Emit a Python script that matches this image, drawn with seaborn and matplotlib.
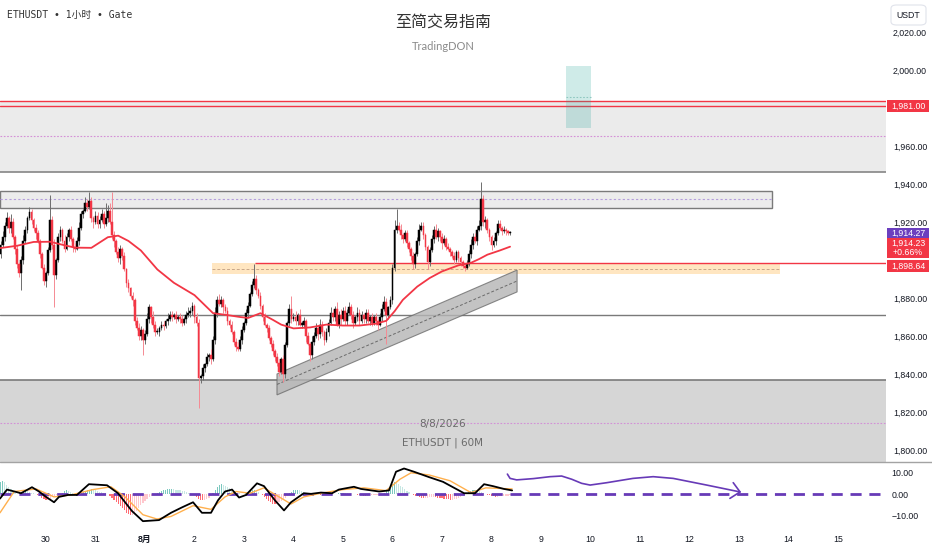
import numpy as np
import pandas as pd
import matplotlib
matplotlib.use("Agg")
import matplotlib.pyplot as plt
import matplotlib.transforms as mtransforms
from matplotlib.patches import Rectangle, Polygon, FancyBboxPatch
from matplotlib.lines import Line2D
import seaborn as sns

# hours counted from 30 Jul 00:00, one candle per hour
first_hour = -22
first_open = 1903
closes = [
    1908, 1912, 1918, 1922, 1917, 1920, 1912, 1906, 1898, 1893, 1900, 1910, 1916, 1922, 1925, 1921, 1917, 1914, 1910, 1903, 1896, 1889, 1893, 1905,
    1921, 1908, 1892, 1900, 1912, 1916, 1910, 1906, 1912, 1916, 1911, 1907, 1906, 1910, 1917, 1924, 1926, 1930, 1928, 1931, 1922, 1920, 1923, 1919,
    1921, 1924, 1919, 1922, 1926, 1920, 1913, 1910, 1904, 1901, 1906, 1902, 1895, 1888, 1885, 1881, 1879, 1868, 1864, 1860, 1863, 1858, 1861, 1869,
    1875, 1870, 1866, 1862, 1862, 1864, 1866, 1865, 1868, 1869, 1871, 1870, 1871, 1869, 1870, 1869, 1867, 1869, 1871, 1872, 1873, 1876, 1870, 1867,
    1838, 1839, 1843, 1845, 1849, 1850, 1848, 1858, 1872, 1879, 1877, 1879, 1875, 1873, 1868, 1866, 1862, 1857, 1854, 1853, 1858, 1863, 1867, 1872,
    1876, 1882, 1887, 1890, 1884, 1881, 1876, 1870, 1866, 1864, 1859, 1856, 1852, 1849, 1846, 1841, 1848, 1840, 1855, 1867, 1874, 1869, 1870, 1868,
    1871, 1866, 1866, 1868, 1860, 1856, 1850, 1857, 1860, 1864, 1861, 1866, 1862, 1858, 1862, 1867, 1872, 1870, 1874, 1866, 1871, 1869, 1873, 1868,
    1872, 1875, 1871, 1867, 1870, 1872, 1868, 1871, 1869, 1872, 1868, 1870, 1867, 1870, 1868, 1866, 1870, 1874, 1878, 1871, 1875, 1879, 1896, 1916,
    1918, 1916, 1913, 1911, 1914, 1909, 1906, 1902, 1898, 1903, 1910, 1916, 1918, 1913, 1907, 1899, 1905, 1911, 1916, 1912, 1915, 1912, 1909, 1911,
    1907, 1906, 1904, 1902, 1900, 1904, 1901, 1899, 1897, 1896, 1898, 1903, 1908, 1912, 1910, 1916, 1918, 1932, 1920, 1921, 1916, 1912, 1908, 1910,
    1914, 1919, 1917, 1915, 1916, 1915, 1914, 1914.23,
]
up_wick = [
    2, 3, 2, 3, 1, 4, 2, 1, 2, 1, 2, 3, 2, 1, 3, 2, 1, 2, 2, 1, 1, 2, 1, 2,
    13, 2, 3, 1, 2, 2, 1, 3, 2, 1, 2, 1, 2, 2, 3, 2, 1, 3, 2, 5, 2, 1, 3, 2,
    2, 3, 2, 8, 3, 4, 16, 2, 1, 3, 2, 1, 2, 1, 2, 1, 2, 1, 2, 3, 2, 1, 2, 3,
    2, 1, 3, 2, 2, 1, 2, 2, 1, 3, 2, 2, 1, 2, 1, 2, 2, 1, 2, 3, 2, 2, 1, 2,
    2, 1, 2, 1, 2, 1, 3, 2, 3, 2, 3, 2, 1, 2, 2, 1, 2, 1, 2, 3, 2, 2, 1, 2,
    2, 1, 2, 8, 2, 1, 2, 1, 2, 1, 2, 1, 2, 1, 2, 2, 1, 2, 2, 1, 3, 7, 2, 3,
    1, 3, 2, 2, 1, 2, 1, 3, 2, 3, 1, 3, 2, 1, 2, 2, 3, 2, 2, 4, 2, 3, 2, 3,
    2, 3, 2, 2, 1, 3, 2, 2, 1, 2, 2, 1, 2, 1, 2, 1, 2, 3, 3, 2, 1, 2, 2, 5,
    9, 2, 3, 1, 2, 2, 1, 1, 2, 1, 2, 3, 2, 2, 1, 1, 2, 2, 2, 3, 2, 1, 2, 2,
    1, 2, 1, 1, 2, 1, 1, 1, 1, 1, 2, 2, 3, 2, 2, 2, 3, 9, 2, 2, 1, 1, 1, 2,
    1, 2, 2, 1, 2, 1, 1, 1,
]
down_wick = [
    2, 1, 2, 1, 3, 3, 1, 3, 2, 2, 9, 2, 1, 2, 1, 2, 2, 3, 1, 2, 1, 2, 3, 1,
    1, 2, 17, 2, 1, 2, 1, 2, 1, 2, 1, 3, 2, 1, 2, 1, 2, 1, 2, 1, 2, 3, 1, 2,
    2, 1, 2, 1, 2, 1, 2, 3, 1, 2, 3, 2, 1, 2, 2, 1, 3, 2, 1, 2, 2, 8, 2, 1,
    2, 3, 2, 2, 1, 2, 1, 2, 1, 2, 1, 2, 1, 2, 1, 2, 2, 1, 2, 1, 2, 2, 3, 2,
    16, 3, 2, 2, 1, 2, 3, 1, 2, 2, 1, 2, 3, 1, 2, 2, 1, 2, 2, 1, 1, 2, 1, 1,
    2, 1, 1, 2, 2, 1, 2, 2, 1, 2, 1, 2, 2, 2, 2, 2, 1, 4, 2, 1, 2, 2, 1, 2,
    2, 1, 2, 2, 3, 1, 3, 2, 2, 1, 3, 2, 2, 3, 1, 2, 1, 2, 2, 1, 2, 3, 1, 2,
    2, 1, 2, 3, 1, 2, 2, 1, 2, 2, 1, 2, 2, 1, 2, 3, 1, 2, 1, 15, 2, 1, 2, 2,
    2, 1, 2, 2, 1, 2, 2, 2, 3, 2, 1, 2, 1, 2, 2, 4, 2, 1, 2, 1, 2, 2, 3, 1,
    2, 1, 2, 1, 2, 1, 2, 2, 1, 2, 1, 1, 2, 2, 1, 2, 1, 2, 2, 3, 2, 2, 3, 1,
    2, 1, 1, 2, 1, 2, 1, 1,
]

ma_hours = [-22, -14, -6, 2, 8, 14, 22, 30, 35, 40, 46, 54, 62, 72, 81, 88, 94, 98, 104, 110,
            114, 120, 128, 136, 144, 152, 160, 165, 169, 173, 180, 186, 192, 200, 206, 210, 214, 220, 225]
ma_values = [1906.3, 1907.5, 1909.5, 1909.6, 1908, 1906.5, 1906.4, 1912, 1912.8, 1910, 1905, 1895, 1888, 1881.5, 1872, 1871, 1870, 1869.5, 1872, 1868.5,
             1866, 1864, 1864.5, 1866, 1865.5, 1865.5, 1866.5, 1868, 1873, 1879, 1886, 1890.5, 1894, 1897.2, 1898.5, 1900.5, 1902.8, 1905, 1907]

macd_hours = [-22.3, -18.9, -12.1, -6.8, -3.4, 0, 3.9, 6.3, 10.7, 15, 20.8, 29.6, 34.9, 41.7, 47, 54.8, 60.6, 65.9, 71.3, 75.6,
              80, 83.4, 86.8, 90.2, 93.6, 97, 102.3, 105.7, 111, 115.4, 118.8, 125, 128.5, 133.3, 138.7, 142, 149.3, 152.7, 161.5, 166.3,
              169.7, 173.6, 178.4, 185.7, 192.5, 202.7, 208, 212.4, 216.7, 222, 226]
macd_values = [-2, 2.2, 0.5, 3.3, 1.3, -1.2, -3.7, -1.2, -0.3, -0.3, 4.7, 4.2, 0.5, -7.8, -12.5, -12, -8.6, -6.1, -3.7, -8.6,
               -8.6, -2.8, 1.3, 2.2, -1.5, -0.3, 5.1, 3.8, -2.8, -7.5, -3.7, 0.5, 0.2, 0.8, 0.5, 2.2, 3.5, 2.5, 1.3, 1.8,
               10.5, 12, 10.5, 8, 5.8, 0.5, 0.5, 4.7, 3.8, 2.5, 1.8]
signal_hours = [-22.3, -15.4, -4.8, 3.9, 12.1, 22.8, 31.5, 38.3, 47, 53.8, 60.6, 71.3, 80, 86.8, 92.1, 98.9,
                105.7, 113, 118.8, 125, 133.3, 144, 154.2, 164.9, 171.6, 177, 185.7, 195.9, 206, 213.3, 226]
signal_values = [-8.6, 1.3, 2.5, -1.2, -0.3, 2.2, 3.5, -1.2, -9.5, -11.5, -10.3, -5.3, -7, -1.2, 1.3, 0.5,
                 3, -1.2, -4.5, -1.2, 0.5, 2.2, 3, 1.7, 7, 10, 9, 6.3, 0.8, 3, 2.5]
hist_values = [
    5.5, 6, 5.5, 4.5, 3.5, 2.5, 1.5, 0.8, 0.3, 0.5, 1.2, 1.5, 1.8, 1.4, 1, 0.6, 0.4, 0.2, -0.3,
    -0.8, -1.5, -2.2, -2.8, -2.5, -2, -1.4, -0.8, -0.5, -0.3, -0.1, 0.8, 1.5, 2, 1.6, 1,
    0.5, 0.3, 0.2, 0.4, 0.8, 1.2, 1.6, 2, 2.2, 2.3, 2.1, 1.8, 1.5, 1.2, 1, 0.7, 0.4, 0.1,
    -0.6, -1.5, -2.5, -3.5, -4.5, -5.5, -6.5, -7.5, -8.5, -9.3, -9.8, -9.5, -8.8, -7.8, -6.5,
    -5.2, -4, -3, -2, -1.3, -0.6, -0.2, 0.2,
    0.6, 1, 1.4, 1.8, 2.1, 2.3, 2.4, 2.4, 2.3, 2.2, 2, 1.8, 1.6, 1.4, 1.1, 0.8, 0.5, 0.2,
    -0.5, -1.2, -2, -2.6, -2.8, -2.6, -2.2, -1.6, -0.8,
    0.5, 1.8, 3.2, 4.2, 4.7, 4.5, 4, 3.4, 2.8, 2.2, 1.7, 1.2, 0.8, 0.4, 0.1,
    0.2, 0.5, 1, 1.5, 1.8, 2, 1.6, 1, 0.3,
    -0.5, -1.4, -2.3, -3.1, -3.8, -4.3, -4.5, -4.3, -3.8, -3.2, -2.5, -1.6, -0.6,
    0.4, 1.2, 1.8, 2.2, 2.2, 1.9, 1.5, 1.1, 0.7, 0.3,
    0.1, -0.1, 0, 0.2, 0.1, -0.2, -0.1, 0.1, 0.3, 0.5, 0.4, 0.2, 0.1, 0.3, 0.5,
    0.6, 0.7, 0.6, 0.4, 0.3, 0.2, 0.1, 0, -0.2, -0.4, -0.5, -0.6, -0.7, -0.6, -0.5, -0.4, -0.3, -0.2, -0.1, 0, 0.2,
    0.6, 1.5, 2.8, 4, 5, 5.5, 5.4, 4.8, 4, 3.2, 2.4, 1.6, 0.9, 0.3,
    -0.3, -0.7, -1, -1.3, -1.5, -1.6, -1.6, -1.5, -1.4, -1.3, -1.3, -1.4, -1.5, -1.6, -1.8, -2, -2.2, -2.4, -2.5, -2.5, -2.3, -2, -1.6, -1.1, -0.5,
    0.2, 0.8, 1.3, 1.7, 2, 2.1, 1.9, 1.6, 1.2, 0.8, 0.3,
    -0.2, -0.5, -0.8, -1, -1.1, -1.1, -1, -0.9, -0.8, -0.7, -0.6, -0.5,
]

# hand-drawn purple arrow on the MACD pane
arrow_hours = [223.7, 225.0, 228.2, 236.3, 244.4, 250.0, 254.9, 259.7, 263.8, 271.9, 284.6, 294.4, 304.1, 320.3, 336.5]
arrow_values = [9.4, 7.4, 6.7, 7.3, 8.2, 8.5, 7.0, 5.1, 4.3, 5.4, 7.4, 8.2, 7.4, 4.3, 1.1]
arrow_head_hours = [333.2, 336.5, 331.6]
arrow_head_values = [5.4, 1.1, -1.9]

day_ticks = list(range(0, 385, 24))
day_labels = ['30', '31', '8月', '2', '3', '4', '5', '6', '7', '8', '9', '10', '11', '12', '13', '14', '15']
price_ticks = [2020, 2000, 1960, 1940, 1920, 1880, 1860, 1840, 1820, 1800]
macd_ticks = [10, 0, -10]

# drawings (price levels and zones)
red_levels = [1983.8, 1981.0]
upper_zone = (1946.3, 1983.8)
upper_zone_mid = 1965.3
box_zone = (1927.4, 1936.3)
box_end_hour = 352
supply_zone = (1892.6, 1898.4)
supply_hours = (80.5, 355.9)
ray_level, ray_start = 1898.64, 101.3
mid_level = 1871.0
lower_zone_top = 1836.8
lower_zone_mid = 1814.2
target_box = (252.1, 264.2, 1969.5, 2002.1)
channel = [(112, 1840.0), (228.4, 1894.7), (228.4, 1883.2), (112, 1829.0)]

W, H = 932, 550
RED = '#f23645'
PURPLE = '#673ab7'
XLIM = (-22.3, 407.27)

sns.set_style('white')
plt.rcParams['font.family'] = ['Liberation Sans', 'Noto Sans CJK SC', 'DejaVu Sans']

fig = plt.figure(figsize=(W / 100, H / 100), dpi=100)
ax = fig.add_axes([0, 88 / H, 886 / W, 462 / H])
axm = fig.add_axes([0, 23 / H, 886 / W, 64 / H])

# --- zones ---
ax.axhspan(*upper_zone, color='#ebebeb', lw=0, zorder=0)
for lv in red_levels:
    ax.axhline(lv, color=RED, lw=1, zorder=1)
ax.axhline(upper_zone[0], color='#858585', lw=1.2, zorder=1)
ax.axhline(upper_zone_mid, color='#d48fd6', lw=0.8, ls=(0, (1.5, 1.5)), zorder=1)

ax.add_patch(Rectangle((XLIM[0], box_zone[0]), box_end_hour - XLIM[0], box_zone[1] - box_zone[0],
                       fc='#ececec', ec='#7a7a7a', lw=1, zorder=1))
ax.hlines(sum(box_zone) / 2, XLIM[0], box_end_hour, color='#b39ddb', lw=0.8, ls=(0, (2, 2)), zorder=1)

ax.add_patch(Rectangle((supply_hours[0], supply_zone[0]), supply_hours[1] - supply_hours[0],
                       supply_zone[1] - supply_zone[0], fc='#ffe0b2', alpha=0.8, lw=0, zorder=1))
ax.hlines(sum(supply_zone) / 2, *supply_hours, color='#c9a88a', lw=0.7, ls=(0, (3, 2)), zorder=1)
ax.hlines(ray_level, ray_start, XLIM[1], color=RED, lw=1, zorder=1)

ax.axhline(mid_level, color='#7a7a7a', lw=1, zorder=1)
ax.axhspan(1780, lower_zone_top, color='#d6d6d6', lw=0, zorder=0)
ax.axhline(lower_zone_top, color='#7a7a7a', lw=1.2, zorder=1)
ax.axhline(lower_zone_mid, color='#d48fd6', lw=0.8, ls=(0, (1.5, 1.5)), zorder=1)

t0, t1, p0, p1 = target_box
ax.add_patch(Rectangle((t0, p0), t1 - t0, p1 - p0, fc='#26a69a', alpha=0.22, lw=0, zorder=2))
ax.hlines(1985.8, t0, t1, color='#8fc7c0', lw=0.8, ls=(0, (1.5, 1.5)), zorder=2)

ax.add_patch(Polygon(channel, closed=True, fc='#b5b5b5', alpha=0.8, ec='#6d6d6d', lw=0.8, zorder=2))
ax.plot([channel[0][0], channel[1][0]],
        [(channel[0][1] + channel[3][1]) / 2, (channel[1][1] + channel[2][1]) / 2],
        color='#6a6a6a', lw=0.7, ls=(0, (3, 2)), zorder=2)

# --- candles ---
hours = np.arange(first_hour, first_hour + len(closes))
df = pd.DataFrame({'h': hours, 'open': [first_open] + closes[:-1], 'close': closes})
df['high'] = df[['open', 'close']].max(axis=1) + np.array(up_wick)
df['low'] = df[['open', 'close']].min(axis=1) - np.array(down_wick)
df['bottom'] = df[['open', 'close']].min(axis=1)
df['body'] = (df['close'] - df['open']).abs().clip(lower=0.6)
rising = df['close'] >= df['open']
for mask, col, wcol in [(rising, '#000000', '#6e6e6e'), (~rising, RED, '#f58a93')]:
    d = df[mask]
    ax.vlines(d['h'], d['low'], d['high'], color=wcol, lw=0.7, zorder=3)
    ax.bar(d['h'], d['body'], bottom=d['bottom'], width=0.85, color=col,
           edgecolor=col, lw=0.35, zorder=3)

sns.lineplot(x=ma_hours, y=ma_values, ax=ax, color=RED, lw=1.3, zorder=4)

ax.set_xlim(*XLIM)
ax.set_ylim(1793.68, 2036.84)
ax.set_yticks(price_ticks)
ax.set_yticklabels([f'{p:,.2f}' for p in price_ticks])
ax.tick_params(axis='y', left=False, right=True, labelleft=False, labelright=True,
               length=0, pad=5, labelsize=6.3, labelcolor='#131722')
ax.set_xticks([])
for s in ax.spines.values():
    s.set_visible(False)

# price tags on the right scale
trans = mtransforms.blended_transform_factory(fig.transFigure, ax.transData)
tags = [(1981.0, 3.15, RED, ['1,981.00'], [1981.0]),
        (1914.27, 2.6, '#6b3fbf', ['1,914.27'], [1914.27]),
        (1906.35, 5.25, RED, ['1,914.23', '+0.66%'], [1909.0, 1903.7]),
        (1896.8, 3.15, RED, ['1,898.64'], [1896.8])]
for center, half, col, texts, ys in tags:
    ax.add_patch(Rectangle((887 / W, center - half), 42 / W, 2 * half, transform=trans,
                           fc=col, lw=0, clip_on=False, zorder=5))
    for t, y in zip(texts, ys):
        ax.text(908 / W, y, t, transform=trans, ha='center', va='center', color='white',
                fontsize=6.3, zorder=6, clip_on=False)

# --- MACD pane ---
hist = np.array(hist_values)
hist_hours = np.arange(first_hour, first_hour + len(hist))
prev = np.r_[hist[0], hist[:-1]]
hcol = np.where(hist >= 0, np.where(hist >= prev, '#7cc8bf', '#c6e7e3'),
                np.where(hist < prev, '#ff6b73', '#ffc7cd'))
axm.bar(hist_hours, hist, width=0.6, color=hcol, lw=0, zorder=1)
axm.axhline(0, color=PURPLE, lw=2, ls=(0, (4, 2.8)), zorder=2)
sns.lineplot(x=signal_hours, y=signal_values, ax=axm, color='#ffb04d', lw=1, zorder=3)
sns.lineplot(x=macd_hours, y=macd_values, ax=axm, color='#000000', lw=1.3, zorder=4)
sns.lineplot(x=arrow_hours, y=arrow_values, ax=axm, color=PURPLE, lw=1.2, zorder=5)
axm.plot(arrow_head_hours, arrow_head_values, color=PURPLE, lw=1.2, zorder=5)

axm.set_xlim(*XLIM)
axm.set_ylim(-15.21, 14.56)
axm.set_yticks(macd_ticks)
axm.set_yticklabels(['10.00', '0.00', '\u221210.00'])
axm.tick_params(axis='y', left=False, right=True, labelleft=False, labelright=True,
                length=0, pad=4, labelsize=6.3, labelcolor='#131722')
axm.set_xticks(day_ticks)
axm.set_xticklabels(day_labels)
axm.tick_params(axis='x', length=0, pad=6, labelsize=6.3, labelcolor='#131722')
for lab in axm.get_xticklabels():
    if lab.get_text() == '8月':
        lab.set_fontweight('bold')
for s in axm.spines.values():
    s.set_visible(False)

fig.add_artist(Line2D([0, 1], [88 / H, 88 / H], color='#a3a3a3', lw=1, transform=fig.transFigure))

# --- texts ---
fig.text(7 / W, 1 - 15 / H, 'ETHUSDT • 1小时 • Gate', ha='left', va='center', fontsize=7,
         color='#333333', family=['DejaVu Sans Mono', 'Noto Sans CJK SC'])
fig.text(443 / W, 1 - 22 / H, '至简交易指南', ha='center', va='center', fontsize=11.5,
         color='#333333', family=['Noto Sans CJK SC', 'DejaVu Sans'])
fig.text(443 / W, 1 - 46 / H, 'TradingDON', ha='center', va='center', fontsize=8,
         color='#8a8a8a', family=['Lato', 'DejaVu Sans'])
fig.text(443 / W, 1 - 424 / H, '8/8/2026', ha='center', va='center', fontsize=7.5,
         color='#6b6b6b', family=['DejaVu Sans'])
fig.text(443 / W, 1 - 443 / H, 'ETHUSDT | 60M', ha='center', va='center', fontsize=7.5,
         color='#6b6b6b', family=['DejaVu Sans'])

fig.add_artist(FancyBboxPatch((891 / W, 1 - 25 / H), 35 / W, 20 / H,
                              boxstyle='round,pad=0,rounding_size=0.006', transform=fig.transFigure,
                              fc='white', ec='#e0e3eb', lw=0.8))
fig.text(908.5 / W, 1 - 15 / H, 'USDT', ha='center', va='center', fontsize=6.3, color='#131722')

fig.savefig('out.png', dpi=100)
